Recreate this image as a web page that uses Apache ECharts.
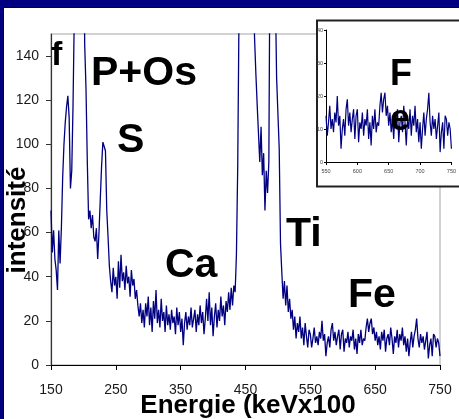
<!DOCTYPE html>
<html>
<head>
<meta charset="utf-8">
<script src="https://cdn.jsdelivr.net/npm/echarts@6/dist/echarts.min.js"></script>
<style>
  html, body { margin: 0; padding: 0; background: #000080; }
  #frame { position: absolute; left: 3px; top: 7px; width: 456px; height: 412px; background: #fff;
           border-top: 1px solid #000; border-left: 1px solid #000; box-sizing: border-box; }
  #chart { position: absolute; left: 0; top: 0; width: 459px; height: 419px; }
</style>
</head>
<body>
<div id="frame"></div>
<div id="chart"></div>
<script>
  // spectre : un point tous les 2 keV (x100), de 150 a 750
  const energyStart = 150;
  const energyStep = 2;

  // 150 - 290 : f, P+Os, S
  const lowSegment = [
    70, 51, 61, 48, 43, 34, 61, 46, 62, 85, 100, 110, 117, 122, 112, 80, 88, 118,
    160, 260, 400, 450, 420, 380, 300, 200, 145, 125, 92, 66, 70, 62, 68, 58, 56, 62,
    48, 60, 75, 90, 101, 99, 97, 70, 58, 45,
    38, 33, 44, 36, 40, 30, 47, 35, 50, 38, 42, 34, 45, 37, 40, 31, 43, 36, 39, 30,
    34, 27, 22, 28, 19
  ];
  // 292 - 438 : Ca
  const midSegment = [
    25, 17, 28, 22, 31, 18, 26, 15, 29, 21, 34, 19, 25, 17, 30, 20, 24, 15, 27, 18,
    23, 16, 25, 19, 22, 14, 26, 18, 24, 15, 21, 9, 19, 24, 16, 22, 18, 26, 17, 21,
    25, 15, 23, 18, 27, 19, 24, 14, 21, 30, 20, 33, 18, 26, 13, 22, 28, 17, 25, 20,
    31, 22, 27, 18, 29, 24, 33, 25, 35, 27, 36, 33, 50, 90
  ];
  // 440 - 530 : Ti
  const tiSegment = [
    160, 300, 500, 600, 550, 450, 380, 320, 280, 240, 200, 170, 148, 132, 118, 105,
    92, 108, 86, 96, 70, 88, 78, 92, 200, 400, 500, 300, 170, 130, 114, 98,
    55, 42, 30, 38, 27, 36, 24, 30, 21, 25, 16, 22, 12, 19
  ];
  // 532 - 750 : Fe
  const feSegment = [
    15, 22, 12, 17, 9, 19, 13, 8, 16, 14, 8, 12, 17, 10, 13, 9, 15, 12, 20, 11,
    14, 4, 10, 13, 8, 16, 19, 11, 15, 9, 13, 16, 7, 14, 16, 6, 12, 10, 15, 8,
    13, 11, 16, 7, 12, 5, 14, 10, 16, 9, 12, 11, 17, 21, 15, 19, 21, 14, 17, 11,
    15, 9, 13, 7, 15, 11, 16, 6, 12, 14, 9, 17, 12, 5, 13, 10, 16, 8, 14, 11,
    17, 9, 13, 6, 12, 4, 10, 15, 8, 13, 16, 21, 12, 8, 14, 10, 13, 7, 11, 15,
    3, 9, 12, 4, 14, 13, 8, 12, 10, 4
  ];

  const xTicks = [150, 250, 350, 450, 550, 650, 750];
  const yTicks = [0, 20, 40, 60, 80, 100, 120, 140];

  const intensity = lowSegment.concat(midSegment, tiSegment, feSegment);
  const spectrum = intensity.map((v, i) => [energyStart + i * energyStep, v]);
  const insetSpectrum = spectrum.filter(p => p[0] >= 550);

  const FONT = "'Liberation Sans', Arial, sans-serif";

  function label(text, x, y, size, z) {
    return {
      type: 'text', x: x, y: y, z: z || 30,
      style: { text: text, fill: '#000', font: 'bold ' + size + 'px ' + FONT,
               align: 'left', verticalAlign: 'middle' }
    };
  }

  const chart = echarts.init(document.getElementById('chart'));
  chart.setOption({
    animation: false,
    backgroundColor: 'transparent',
    textStyle: { fontFamily: FONT },
    grid: [
      { left: 51, top: 34, right: 19, bottom: 54, show: true, borderColor: '#c4c4c4', borderWidth: 1.5 },
      { left: 326, top: 30, right: 4.5, bottom: 257, z: 20 }
    ],
    xAxis: [{
      type: 'value', gridIndex: 0, min: 150, max: 750,
      axisLine: { lineStyle: { color: '#000', width: 1.2 } },
      axisTick: { customValues: xTicks, length: 5, lineStyle: { color: '#000' } },
      axisLabel: { customValues: xTicks, fontSize: 14, color: '#1a1a1a', margin: 18 },
      splitLine: { show: false }
    }, {
      type: 'value', gridIndex: 1, min: 550, max: 750, interval: 50, z: 20,
      axisLine: { lineStyle: { color: '#000', width: 1 } },
      axisTick: { length: 3, lineStyle: { color: '#000' } },
      axisLabel: { fontSize: 5.5, color: '#444', margin: 6 },
      splitLine: { show: false }
    }],
    yAxis: [{
      type: 'value', gridIndex: 0, min: 0, max: 150,
      axisLine: { show: true, lineStyle: { color: '#333', width: 1.2 } },
      axisTick: { show: true, customValues: yTicks, length: 5, lineStyle: { color: '#333' } },
      axisLabel: { customValues: yTicks, fontSize: 14, color: '#1a1a1a', margin: 12 },
      splitLine: { show: false }
    }, {
      type: 'value', gridIndex: 1, min: 0, max: 40, interval: 10, z: 20,
      axisLine: { show: true, lineStyle: { color: '#000', width: 1 } },
      axisTick: { show: true, length: 2, lineStyle: { color: '#000' } },
      axisLabel: { fontSize: 5.5, color: '#444', margin: 3 },
      splitLine: { show: false }
    }],
    series: [{
      type: 'line', xAxisIndex: 0, yAxisIndex: 0, data: spectrum,
      showSymbol: false, clip: true,
      lineStyle: { color: '#000080', width: 1.3 }
    }, {
      type: 'line', xAxisIndex: 1, yAxisIndex: 1, data: insetSpectrum, z: 22,
      showSymbol: false, clip: true,
      lineStyle: { color: '#000080', width: 1.2 }
    }],
    graphic: [
      // cadre de l'encart
      { type: 'rect', z: 15, shape: { x: 317, y: 20.5, width: 150, height: 166 },
        style: { fill: '#fff', stroke: '#222', lineWidth: 2 } },
      label('f', 51, 56, 34),
      label('P+Os', 91, 74, 41),
      label('S', 117, 141, 41),
      label('Ca', 165, 266, 41),
      label('Ti', 286, 235, 41),
      label('Fe', 348, 296, 41),
      label('F', 390, 75, 36),
      label('e', 390, 120, 36),
      // titres des axes
      { type: 'text', x: 248, y: 406, z: 30,
        style: { text: 'Energie (keVx100', fill: '#000', font: 'bold 26px ' + FONT,
                 align: 'center', verticalAlign: 'middle' } },
      { type: 'text', x: 18, y: 220, z: 30, rotation: Math.PI / 2,
        style: { text: 'intensité', fill: '#000', font: 'bold 26px ' + FONT,
                 align: 'center', verticalAlign: 'middle' } }
    ]
  });
</script>
</body>
</html>
